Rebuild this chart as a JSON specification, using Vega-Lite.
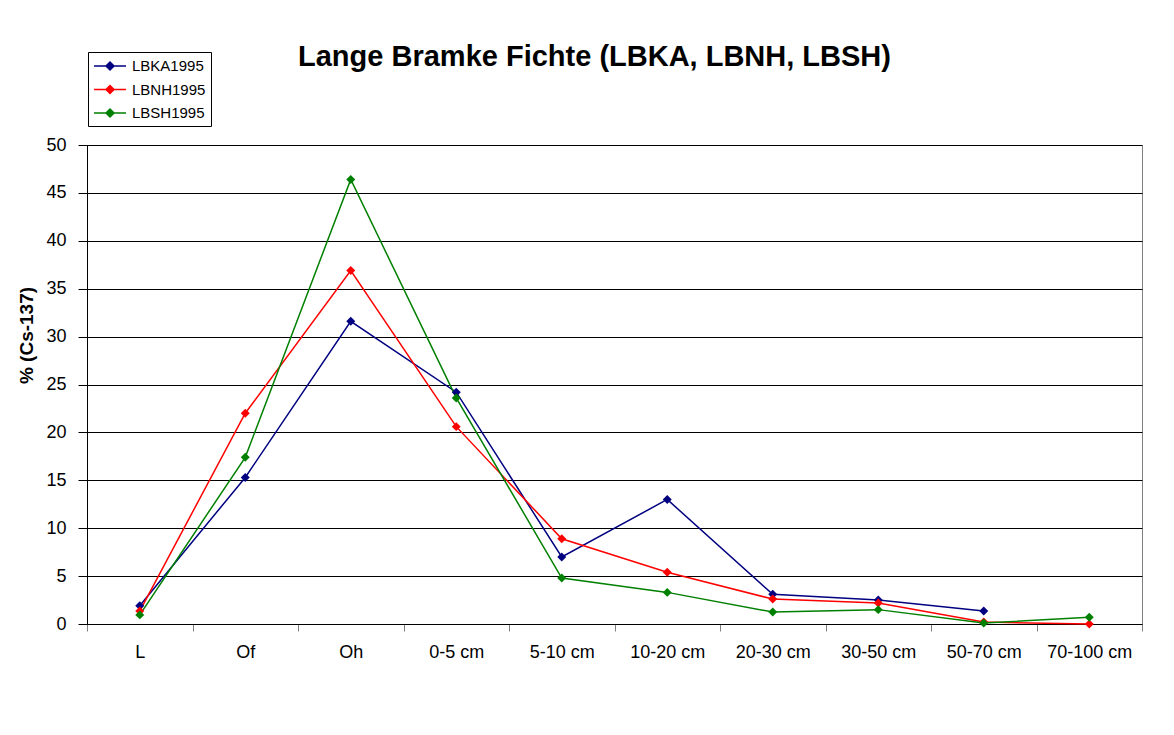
{
  "$schema": "https://vega.github.io/schema/vega-lite/v6.json",
  "width": 1055,
  "height": 479,
  "autosize": {"type": "none"},
  "padding": {"left": 87, "top": 145, "right": 32, "bottom": 111},
  "background": "white",
  "title": {
    "text": "Lange Bramke Fichte (LBKA, LBNH, LBSH)",
    "font": "Liberation Sans",
    "fontSize": 29,
    "fontWeight": "bold",
    "color": "black",
    "anchor": "middle",
    "frame": "group",
    "baseline": "alphabetic",
    "offset": -43,
    "dx": -20
  },
  "data": {
    "values": [
      {"depth": "L", "series": "LBKA1995", "value": 1.9},
      {"depth": "Of", "series": "LBKA1995", "value": 15.3},
      {"depth": "Oh", "series": "LBKA1995", "value": 31.6},
      {"depth": "0-5 cm", "series": "LBKA1995", "value": 24.2},
      {"depth": "5-10 cm", "series": "LBKA1995", "value": 7.0},
      {"depth": "10-20 cm", "series": "LBKA1995", "value": 13.0},
      {"depth": "20-30 cm", "series": "LBKA1995", "value": 3.1},
      {"depth": "30-50 cm", "series": "LBKA1995", "value": 2.5},
      {"depth": "50-70 cm", "series": "LBKA1995", "value": 1.35},
      {"depth": "L", "series": "LBNH1995", "value": 1.35},
      {"depth": "Of", "series": "LBNH1995", "value": 22.0},
      {"depth": "Oh", "series": "LBNH1995", "value": 36.9},
      {"depth": "0-5 cm", "series": "LBNH1995", "value": 20.6},
      {"depth": "5-10 cm", "series": "LBNH1995", "value": 8.9},
      {"depth": "10-20 cm", "series": "LBNH1995", "value": 5.4},
      {"depth": "20-30 cm", "series": "LBNH1995", "value": 2.6},
      {"depth": "30-50 cm", "series": "LBNH1995", "value": 2.2},
      {"depth": "50-70 cm", "series": "LBNH1995", "value": 0.2},
      {"depth": "70-100 cm", "series": "LBNH1995", "value": 0.0},
      {"depth": "L", "series": "LBSH1995", "value": 0.95},
      {"depth": "Of", "series": "LBSH1995", "value": 17.4},
      {"depth": "Oh", "series": "LBSH1995", "value": 46.4},
      {"depth": "0-5 cm", "series": "LBSH1995", "value": 23.6},
      {"depth": "5-10 cm", "series": "LBSH1995", "value": 4.8},
      {"depth": "10-20 cm", "series": "LBSH1995", "value": 3.3},
      {"depth": "20-30 cm", "series": "LBSH1995", "value": 1.25},
      {"depth": "30-50 cm", "series": "LBSH1995", "value": 1.5},
      {"depth": "50-70 cm", "series": "LBSH1995", "value": 0.1},
      {"depth": "70-100 cm", "series": "LBSH1995", "value": 0.7}
    ]
  },
  "mark": {
    "type": "line",
    "strokeWidth": 1.5,
    "point": {"shape": "diamond", "filled": true, "size": 80}
  },
  "encoding": {
    "x": {
      "field": "depth",
      "type": "nominal",
      "sort": ["L", "Of", "Oh", "0-5 cm", "5-10 cm", "10-20 cm", "20-30 cm", "30-50 cm", "50-70 cm", "70-100 cm"],
      "scale": {"type": "band", "paddingInner": 0, "paddingOuter": 0},
      "axis": {
        "title": null,
        "labelAngle": 0,
        "tickBand": "extent",
        "labelFont": "Liberation Sans",
        "labelFontSize": 18,
        "labelColor": "black",
        "labelPadding": 12,
        "tickSize": 7,
        "tickColor": "#808080",
        "domainColor": "black",
        "grid": false
      }
    },
    "y": {
      "field": "value",
      "type": "quantitative",
      "scale": {"domain": [0, 50], "nice": false},
      "axis": {
        "title": "% (Cs-137)",
        "titleFont": "Liberation Sans",
        "titleFontSize": 19,
        "titleFontWeight": "bold",
        "titleColor": "black",
        "titleY": 190,
        "titleX": -61,
        "titleBaseline": "middle",
        "titleAlign": "center",
        "values": [0, 5, 10, 15, 20, 25, 30, 35, 40, 45, 50],
        "labelFont": "Liberation Sans",
        "labelFontSize": 18,
        "labelColor": "black",
        "labelPadding": 12,
        "tickSize": 9,
        "tickColor": "black",
        "domainColor": "black",
        "gridColor": "black",
        "gridOpacity": 1
      }
    },
    "color": {
      "field": "series",
      "type": "nominal",
      "scale": {"domain": ["LBKA1995", "LBNH1995", "LBSH1995"], "range": ["#000080", "#FF0000", "#008000"]},
      "legend": {
        "title": null,
        "orient": "none",
        "legendX": 1,
        "legendY": -93,
        "strokeColor": "black",
        "fillColor": "white",
        "padding": 5,
        "rowPadding": 6.5,
        "symbolType": "M-1,0L3,0M0.5,0L1,-0.5L1.5,0L1,0.5Z",
        "symbolSize": 256,
        "symbolStrokeWidth": 1.5,
        "labelFont": "Liberation Sans",
        "labelFontSize": 15,
        "labelColor": "black",
        "labelOffset": 21,
        "encode": {
          "symbols": {"update": {"fill": {"scale": "color", "field": "value"}, "fillOpacity": {"value": 1}}}
        }
      }
    }
  },
  "config": {
    "view": {"stroke": "#808080", "strokeWidth": 1}
  }
}
